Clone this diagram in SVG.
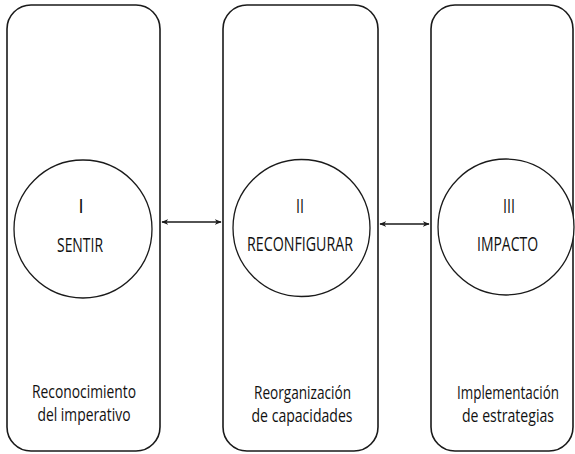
<svg xmlns="http://www.w3.org/2000/svg" width="575" height="454" viewBox="0 0 575 454">
<style>
.box{fill:#fff;stroke:#1a1a1a;stroke-width:1.6}
.circ{fill:#fff;stroke:#1a1a1a;stroke-width:1.3}
.t{font-family:"Open Sans","Liberation Sans",sans-serif;fill:#111;text-anchor:middle;font-weight:500}
.big{font-size:20px}
.sm{font-size:17.5px}
.conn{stroke:#1a1a1a;stroke-width:1.5;fill:none}
</style>
<defs>
<marker id="ah" viewBox="0 0 10 10" refX="9" refY="5" markerWidth="7" markerHeight="7" orient="auto-start-reverse" markerUnits="userSpaceOnUse">
<path d="M0,1 L10,5 L0,9 L3,5 Z" fill="#1a1a1a"/>
</marker>
</defs>
<g id="node1">
<rect class="box" x="7" y="5" width="153" height="446" rx="24"/>
<circle class="circ" cx="83" cy="229" r="69"/>
<text class="t big" x="81" y="213">I</text>
<text class="t big" x="80" y="252" textLength="46" lengthAdjust="spacingAndGlyphs">SENTIR</text>
<text class="t sm" x="84" y="398" textLength="104" lengthAdjust="spacingAndGlyphs">Reconocimiento</text>
<text class="t sm" x="84" y="421" textLength="93" lengthAdjust="spacingAndGlyphs">del imperativo</text>
</g>
<g id="node2">
<rect class="box" x="223" y="5" width="155" height="446" rx="24"/>
<circle class="circ" cx="301.5" cy="228" r="68.5"/>
<text class="t big" x="300" y="213" textLength="8" lengthAdjust="spacingAndGlyphs">II</text>
<text class="t big" x="300" y="251" textLength="106" lengthAdjust="spacingAndGlyphs">RECONFIGURAR</text>
<text class="t sm" x="302.5" y="399" textLength="97" lengthAdjust="spacingAndGlyphs">Reorganización</text>
<text class="t sm" x="302" y="422" textLength="101" lengthAdjust="spacingAndGlyphs">de capacidades</text>
</g>
<g id="node3">
<rect class="box" x="431" y="5" width="142" height="446" rx="24"/>
<circle class="circ" cx="506" cy="227" r="68"/>
<text class="t big" x="509" y="213" textLength="12" lengthAdjust="spacingAndGlyphs">III</text>
<text class="t big" x="507.5" y="251" textLength="61" lengthAdjust="spacingAndGlyphs">IMPACTO</text>
<text class="t sm" x="508" y="399" textLength="102" lengthAdjust="spacingAndGlyphs">Implementación</text>
<text class="t sm" x="508" y="422" textLength="92" lengthAdjust="spacingAndGlyphs">de estrategias</text>
</g>
<g id="connectors">
<line class="conn" x1="162" y1="222" x2="221" y2="222" marker-start="url(#ah)" marker-end="url(#ah)"/>
<line class="conn" x1="380" y1="224" x2="429" y2="224" marker-start="url(#ah)" marker-end="url(#ah)"/>
</g>
</svg>
